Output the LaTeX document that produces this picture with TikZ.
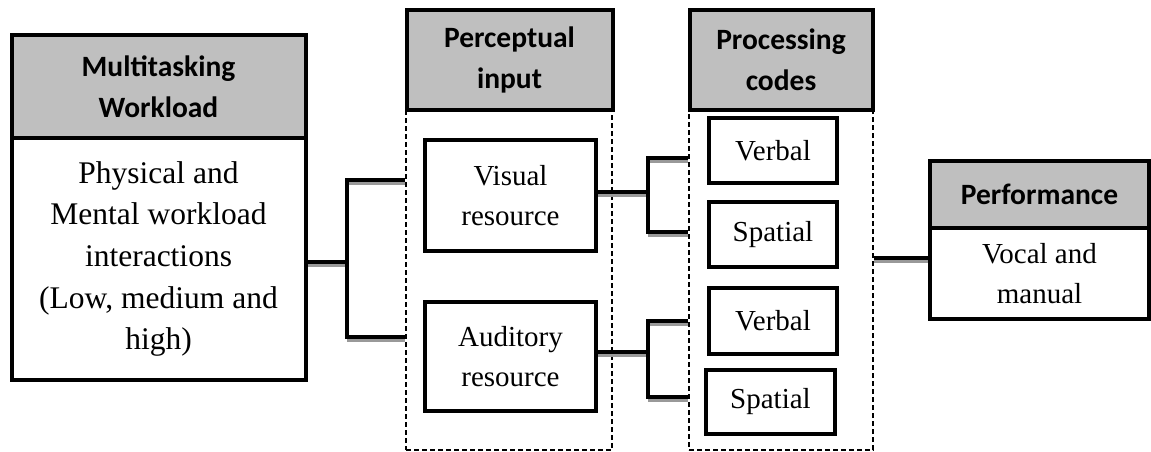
\documentclass[tikz,border=0pt]{standalone}
\usepackage{fontspec}
\setmainfont{Liberation Serif}
\newfontfamily\hdfont{Carlito}
\begin{document}
\begin{tikzpicture}[x=1pt,y=-1pt,
  hdr/.style={draw=black, line width=4pt, fill=hdgray, inner sep=0pt, align=center,
    font=\hdfont\bfseries\fontsize{29.5}{41}\selectfont},
  body/.style={draw=black, line width=4pt, fill=white, inner sep=0pt, align=center,
    font=\fontsize{29}{40}\selectfont},
  cont/.style={draw=black, line width=1.5pt, dash pattern=on 5pt off 3pt, inner sep=0pt},
  conn/.style={draw=black, line width=4pt},
  cshadow/.style={draw=black!40, line width=3.5pt}
]
\definecolor{hdgray}{RGB}{191,191,191}
\useasboundingbox (0,0) rectangle (1151,451);

% dashed containers
\node[cont, minimum width=206pt, minimum height=340pt] (pcont) at (509,280) {};
\node[cont, minimum width=184pt, minimum height=340pt] (ccont) at (781,280) {};

% left column
\node[hdr, minimum width=294pt, minimum height=103pt] (lhead) at (158.5,86.5) {Multitasking\\Workload};
\node[body, minimum width=294pt, minimum height=242pt, font=\fontsize{31.5}{41.7}\selectfont] (lbody) at (158.5,259) {Physical and\\Mental workload\\interactions\\(Low, medium and\\high)};

% perceptual input
\node[hdr, minimum width=206pt, minimum height=100pt] (phead) at (509.5,60) {Perceptual\\input};
\node[body, minimum width=171pt, minimum height=111pt] (vis) at (510.5,195.5) {Visual\\resource};
\node[body, minimum width=171pt, minimum height=109pt] (aud) at (510.5,356.5) {Auditory\\resource};

% processing codes
\node[hdr, minimum width=183pt, minimum height=100pt] (chead) at (781,59.5) {Processing\\codes};
\node[body, minimum width=128pt, minimum height=65pt] (verb1) at (773,150.5) {Verbal};
\node[body, minimum width=128pt, minimum height=65pt] (spat1) at (773,234.5) {Spatial};
\node[body, minimum width=128pt, minimum height=66pt] (verb2) at (773,321) {Verbal};
\node[body, minimum width=129pt, minimum height=64pt] (spat2) at (770.5,402) {Spatial};

% performance
\node[hdr, minimum width=219pt, minimum height=67pt] (perfh) at (1039.5,194.5) {Performance};
\node[body, minimum width=219pt, minimum height=91pt] (perfb) at (1039.5,273.5) {Vocal and\\manual};

% junction coordinates
\coordinate (j1) at (347,262);
\coordinate (j1a) at (347,180);
\coordinate (j1b) at (347,337);
\coordinate (j2) at (648,192);
\coordinate (j2a) at (648,158);
\coordinate (j2b) at (648,232);
\coordinate (j3) at (648,352);
\coordinate (j3a) at (648,321);
\coordinate (j3b) at (648,397);
\coordinate (j4) at (881,258);

% shadows
\begin{scope}[transform canvas={yshift=-3.5pt}]
\draw[cshadow] (lbody.east |- j1) -- (j1);
\draw[cshadow] (j1a) -- (pcont.west |- j1a);
\draw[cshadow] (j1b) -- (pcont.west |- j1b);
\draw[cshadow] (vis.east |- j2) -- (j2);
\draw[cshadow] (j2a) -- (ccont.west |- j2a);
\draw[cshadow] (j2b) -- (ccont.west |- j2b);
\draw[cshadow] (aud.east |- j3) -- (j3);
\draw[cshadow] (j3a) -- (ccont.west |- j3a);
\draw[cshadow] (j3b) -- (ccont.west |- j3b);
\draw[cshadow] (ccont.east |- j4) -- (perfb.west |- j4);
\end{scope}

% connectors
\draw[conn] (lbody.east |- j1) -- (j1);
\draw[conn] (pcont.west |- j1a) -- (j1a) -- (j1b) -- (pcont.west |- j1b);
\draw[conn] (vis.east |- j2) -- (j2);
\draw[conn] (ccont.west |- j2a) -- (j2a) -- (j2b) -- (ccont.west |- j2b);
\draw[conn] (aud.east |- j3) -- (j3);
\draw[conn] (ccont.west |- j3a) -- (j3a) -- (j3b) -- (ccont.west |- j3b);
\draw[conn] (ccont.east |- j4) -- (perfb.west |- j4);
\end{tikzpicture}
\end{document}
